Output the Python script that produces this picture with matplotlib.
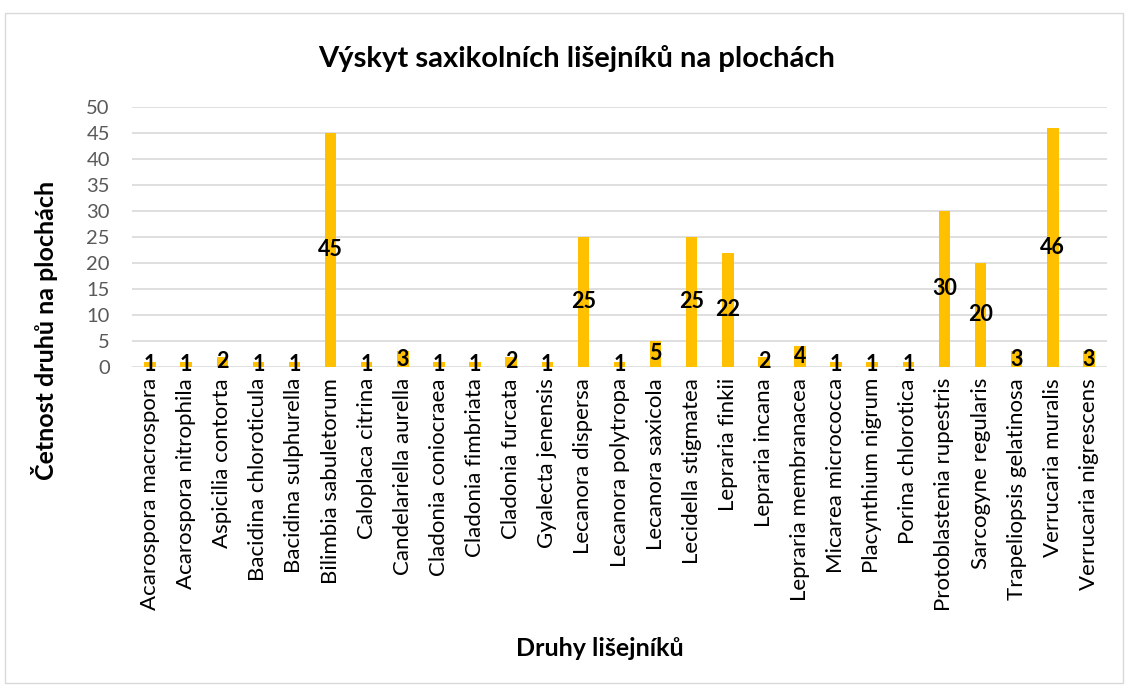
import matplotlib.pyplot as plt
from matplotlib.patches import Rectangle

plt.rcParams['font.family'] = ['Lato', 'DejaVu Sans']

# Druhy a četnosti
druhy = [
    'Acarospora macrospora', 'Acarospora nitrophila', 'Aspicilia contorta',
    'Bacidina chloroticula', 'Bacidina sulphurella', 'Bilimbia sabuletorum',
    'Caloplaca citrina', 'Candelariella aurella', 'Cladonia coniocraea',
    'Cladonia fimbriata', 'Cladonia furcata', 'Gyalecta jenensis',
    'Lecanora dispersa', 'Lecanora polytropa', 'Lecanora saxicola',
    'Lecidella stigmatea', 'Lepraria finkii', 'Lepraria incana',
    'Lepraria membranacea', 'Micarea micrococca', 'Placynthium nigrum',
    'Porina chlorotica', 'Protoblastenia rupestris', 'Sarcogyne regularis',
    'Trapeliopsis gelatinosa', 'Verrucaria muralis', 'Verrucaria nigrescens',
]
cetnosti = [1, 1, 2, 1, 1, 45, 1, 3, 1, 1, 2, 1, 25, 1, 5, 25, 22, 2, 4, 1, 1, 1, 30, 20, 3, 46, 3]
y_ticks = [0, 5, 10, 15, 20, 25, 30, 35, 40, 45, 50]

fig = plt.figure(figsize=(11.28, 6.88), dpi=100)
ax = fig.add_axes([132 / 1128, 1 - 367 / 688, 975 / 1128, 260 / 688])

# rámeček grafu
fig.patches.append(Rectangle((5 / 1128, 5 / 688), 1118 / 1128, 670 / 688,
                             transform=fig.transFigure, fill=False,
                             edgecolor='#d9d9d9', linewidth=1))

x = range(len(druhy))
ax.bar(x, cetnosti, width=0.32, color='#ffc000', zorder=3)
for i, v in zip(x, cetnosti):
    ax.text(i, v / 2, str(v), ha='center', va='center', fontsize=15.5,
            fontweight='bold', color='black', zorder=4)

ax.set_xlim(-0.5, len(druhy) - 0.5)
ax.set_ylim(0, 50)
ax.set_yticks(y_ticks)
ax.set_xticks(list(x))
ax.set_xticklabels(druhy, rotation=90, fontsize=16, color='black')
ax.tick_params(axis='y', labelsize=14.5, labelcolor='#595959', length=0, pad=16)
ax.tick_params(axis='x', length=0, pad=8)
ax.grid(axis='y', color='#d9d9d9', linewidth=1.2, zorder=0)
for s in ax.spines.values():
    s.set_visible(False)

fig.text(577 / 1128, 1 - 58 / 688, 'Výskyt saxikolních lišejníků na plochách',
         ha='center', va='center', fontsize=21, fontweight='bold')
fig.text(45 / 1128, 1 - 330 / 688, 'Četnost druhů na plochách', rotation=90,
         ha='center', va='center', fontsize=18, fontweight='bold')
fig.text(600 / 1128, 1 - 649 / 688, 'Druhy lišejníků', ha='center', va='center',
         fontsize=18, fontweight='bold')

fig.savefig('out.png', dpi=100)
